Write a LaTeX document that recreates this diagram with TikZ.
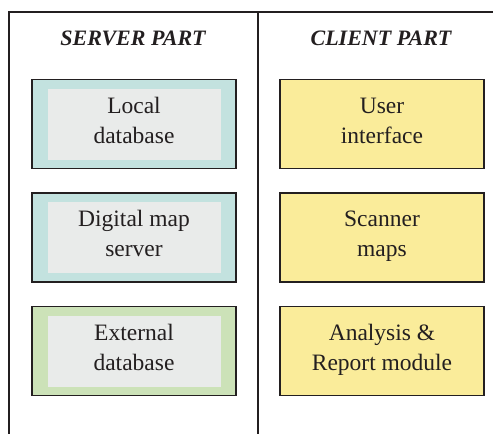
\documentclass[tikz,border=0pt]{standalone}
\usepackage{fontspec}
\setmainfont{Liberation Serif}
\definecolor{srvteal}{HTML}{C3E2DF}
\definecolor{srvgreen}{HTML}{CCE2B8}
\definecolor{boxgrey}{HTML}{E9EBEA}
\definecolor{cliyellow}{HTML}{FAEC9A}
\definecolor{inkdark}{HTML}{231F20}
% two lines of box text, with fixed struts so every box sits the same way
\newcommand{\twolines}[2]{\rule{0pt}{20pt}#1\\#2\rule[-12pt]{0pt}{12pt}}
\begin{document}
\begin{tikzpicture}[x=1pt, y=-1pt]
\tikzstyle{every node} = [text=inkdark, font=\fontsize{23.5}{30}\selectfont, align=center]
\tikzstyle{outerbox} = [draw=inkdark, line width=1.4pt, minimum width=204pt, minimum height=89pt, inner sep=0pt]
\tikzstyle{innerbox} = [fill=boxgrey, minimum width=173pt, minimum height=71pt, inner sep=0pt]
\tikzstyle{title} = [font=\fontsize{22}{24}\selectfont\bfseries\itshape]
\useasboundingbox (0,0) rectangle (493,434);
% frame
\draw[inkdark, line width=1.6pt] (9,434) -- (9,12) -- (493,12);
\draw[inkdark, line width=1.6pt] (258,12) -- (258,434);
\node[title] (server) at (133,38.5) {SERVER PART};
\node[title] (client) at (381,38.5) {CLIENT PART};
% server side
\node[outerbox, fill=srvteal] (localbox) at (134,124) {};
\node[innerbox] (local) at (localbox.center) {\twolines{Local}{database}};
\node[outerbox, fill=srvteal] (mapbox) at (134,237.5) {};
\node[innerbox] (mapserver) at (mapbox.center) {\twolines{Digital map}{server}};
\node[outerbox, fill=srvgreen] (extbox) at (134,351) {};
\node[innerbox] (external) at (extbox.center) {\twolines{External}{database}};
% client side
\node[outerbox, fill=cliyellow] (ui) at (382,124) {\twolines{User}{interface}};
\node[outerbox, fill=cliyellow] (scanner) at (382,237.5) {\twolines{Scanner}{maps}};
\node[outerbox, fill=cliyellow] (report) at (382,351) {\twolines{Analysis \&}{Report module}};
\end{tikzpicture}
\end{document}
